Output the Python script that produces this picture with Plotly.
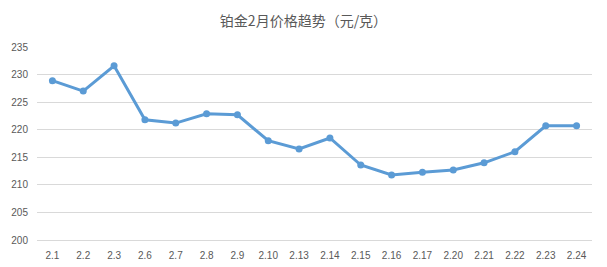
import plotly.graph_objects as go

dates = ["2.1", "2.2", "2.3", "2.6", "2.7", "2.8", "2.9", "2.10", "2.13", "2.14",
         "2.15", "2.16", "2.17", "2.20", "2.21", "2.22", "2.23", "2.24"]
prices = [228.9, 227.0, 231.6, 221.8, 221.2, 222.9, 222.7, 218.0, 216.5, 218.5,
          213.6, 211.8, 212.3, 212.7, 214.0, 216.0, 220.7, 220.7]
y_ticks = [200, 205, 210, 215, 220, 225, 230, 235]
title_text = "铂金2月价格趋势（元/克）"

fig = go.Figure()
fig.add_trace(go.Scatter(
    x=dates, y=prices, mode="lines+markers",
    line=dict(color="#5B9BD5", width=3),
    marker=dict(color="#5B9BD5", size=7),
    showlegend=False,
))
fig.update_layout(
    width=607, height=267,
    margin=dict(l=37, r=15, t=47, b=27),
    paper_bgcolor="white", plot_bgcolor="white",
    title=dict(text=title_text, x=0.5, xanchor="center", y=0.922, yanchor="middle",
               font=dict(family="Noto Sans CJK SC", size=14, color="#595959")),
    font=dict(family="Liberation Sans", size=10, color="#595959"),
)
fig.update_xaxes(type="category", showgrid=False, showline=True, linecolor="#D9D9D9",
                 ticks="", ticklabelstandoff=6, automargin=False,
                 tickfont=dict(size=10, color="#595959"),
                 range=[-0.5, len(dates) - 0.5])
fig.update_yaxes(range=[200, 235], tickvals=y_ticks, showgrid=True, gridcolor="#D9D9D9",
                 zeroline=False, showline=False, ticks="", ticklabelstandoff=8,
                 automargin=False, tickfont=dict(size=10, color="#595959"))
fig.write_html("out.html")
